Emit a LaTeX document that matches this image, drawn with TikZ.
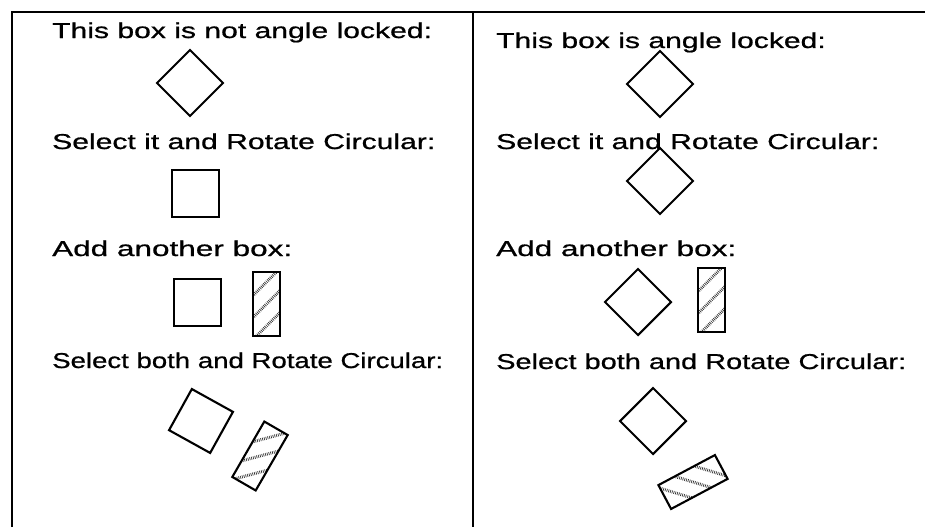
\documentclass[tikz,border=0pt]{standalone}
\usepackage{graphicx}
\usepackage{fontspec}
\setmainfont{Liberation Sans}
\newfontfamily\lblfont[FakeStretch=1.4,FakeBold=0.8]{Liberation Sans}
\tikzset{
  frameline/.style={line width=2.4pt},
  boxline/.style={line width=2.1pt, line join=miter},
  hatch/.style={line width=3pt, dash pattern=on 0.7pt off 1.1pt, black!80},
  lbl/.style={anchor=base west, inner sep=0pt, font=\lblfont\fontsize{21.5}{25}\selectfont}
}
\newcommand\fitw[2]{\resizebox{#1}{\height}{#2}}
\newcommand\hatchbox[3]{%
  \begin{scope}[shift={(#1,#2)}, rotate=#3]
    \begin{scope}
      \clip (-13.5,-32) rectangle (13.5,32);
      \foreach \c in {-22,0,22} \draw[hatch] (-14,\c+14) -- (14,\c-14);
    \end{scope}
    \draw[boxline] (-13.5,-32) rectangle (13.5,32);
  \end{scope}}
\newcommand\diamondbox[2]{%
  \draw[boxline] (#1,#2-33) -- (#1+33,#2) -- (#1,#2+33) -- (#1-33,#2) -- cycle;}
\begin{document}
\begin{tikzpicture}[x=1pt,y=-1pt]
\useasboundingbox (0,0) rectangle (925,527);
\fill[white] (0,0) rectangle (925,527);
% frame
\draw[frameline] (12,527) -- (12,12) -- (925,12);
\draw[frameline] (473,12) -- (473,527);
% left column
\node[lbl] (l1) at (52,38) {This box is not angle locked:};
\node[lbl] (l2) at (52,149) {Select it and Rotate Circular:};
\node[lbl] (l3) at (52,256) {\fitw{240pt}{Add another box:}};
\node[lbl] (l4) at (52,368) {\fitw{391pt}{Select both and Rotate Circular:}};
\diamondbox{190}{83}
\draw[boxline] (172,170) rectangle (219,217);
\draw[boxline] (174,279) rectangle (221,326);
\hatchbox{266.5}{304}{0}
\begin{scope}[shift={(201,421)}, rotate=-29]
  \draw[boxline] (-23.5,-23.5) rectangle (23.5,23.5);
\end{scope}
\hatchbox{260}{456}{-30}
% right column
\node[lbl] (r1) at (496,48) {This box is angle locked:};
\node[lbl] (r2) at (496,149) {Select it and Rotate Circular:};
\node[lbl] (r3) at (496,256) {\fitw{240pt}{Add another box:}};
\node[lbl] (r4) at (496,369) {\fitw{410pt}{Select both and Rotate Circular:}};
\diamondbox{660}{84}
\diamondbox{660}{181}
\diamondbox{638}{302}
\hatchbox{711.5}{300}{0}
\diamondbox{653}{421}
\hatchbox{693}{482}{-62}
\end{tikzpicture}
\end{document}
